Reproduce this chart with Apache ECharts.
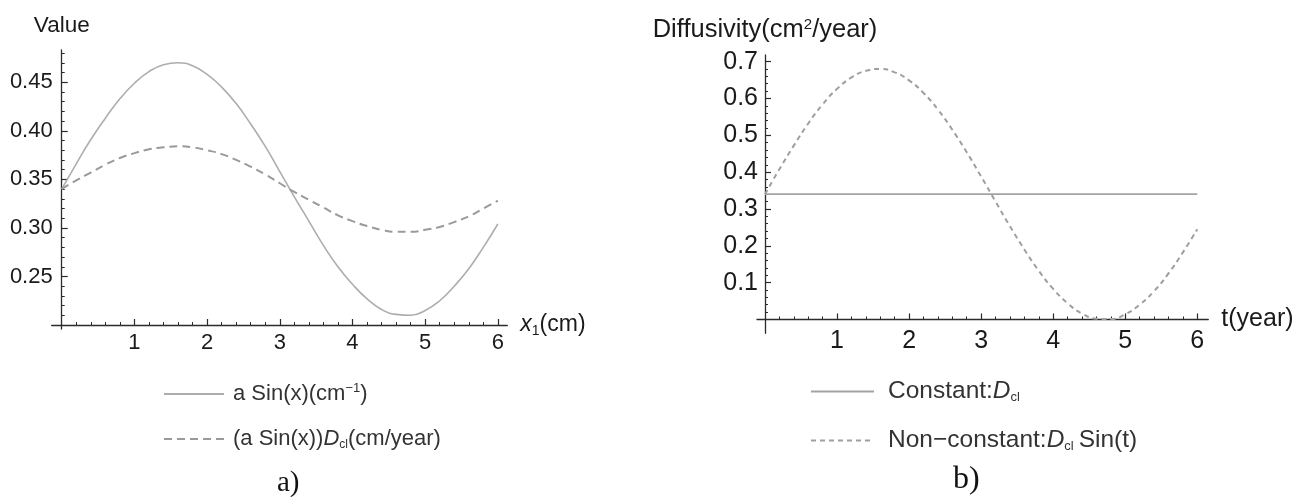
<!DOCTYPE html>
<html>
<head>
<meta charset="utf-8">
<script src="https://cdn.jsdelivr.net/npm/echarts@6/dist/echarts.min.js"></script>
<style>
  html, body { margin: 0; padding: 0; background: #ffffff; }
  #chart { width: 1298px; height: 497px; }
</style>
</head>
<body>
<div id="chart"></div>
<script>
// Sample positions along x (cm) / t (year)
const xs = [0, 0.2, 0.4, 0.6, 0.8, 1, 1.2, 1.4, 1.6, 1.8, 2, 2.2, 2.4, 2.6, 2.8, 3,
            3.2, 3.4, 3.6, 3.8, 4, 4.2, 4.4, 4.6, 4.8, 5, 5.2, 5.4, 5.6, 5.8, 6];

// Panel a): a Sin(x) (cm^-1)
const aSin = [0.340, 0.366, 0.391, 0.413, 0.433, 0.449, 0.461, 0.468, 0.470, 0.467,
              0.458, 0.445, 0.428, 0.407, 0.384, 0.358, 0.332, 0.307, 0.282, 0.260,
              0.242, 0.227, 0.216, 0.211, 0.210, 0.215, 0.225, 0.240, 0.258, 0.280, 0.304];

// Panel a): (a Sin(x)) D_cl (cm/year)
const aSinD = [0.340, 0.349, 0.357, 0.365, 0.372, 0.377, 0.381, 0.383, 0.384, 0.383,
               0.380, 0.376, 0.370, 0.363, 0.355, 0.346, 0.337, 0.329, 0.321, 0.313,
               0.307, 0.302, 0.298, 0.296, 0.296, 0.298, 0.301, 0.306, 0.312, 0.320, 0.328];

// Panel b): constant diffusivity D_cl
const constT = [0, 6];
const constD = [0.34, 0.34];

// Panel b): non-constant diffusivity D_cl Sin(t)
const nonConstD = [0.340, 0.408, 0.472, 0.532, 0.584, 0.626, 0.657, 0.675, 0.680, 0.671,
                   0.649, 0.615, 0.570, 0.515, 0.454, 0.388, 0.320, 0.253, 0.190, 0.132,
                   0.083, 0.044, 0.016, 0.002, 0.001, 0.014, 0.040, 0.077, 0.125, 0.182, 0.245];

// Tick labels
const xTicks = [1, 2, 3, 4, 5, 6];
const leftYTicks = [0.25, 0.30, 0.35, 0.40, 0.45];
const rightYTicks = [0.1, 0.2, 0.3, 0.4, 0.5, 0.6, 0.7];

const FONT = '"Liberation Sans", Arial, sans-serif';
const SERIF = '"Liberation Serif", "Times New Roman", serif';
const AXIS_COLOR = '#2b2b2b';
const TEXT_COLOR = '#1a1a1a';

function zip(a, b) { return a.map((v, i) => [v, b[i]]); }
function steps(from, to, step) {
  const out = [];
  const n = Math.round((to - from) / step);
  for (let i = 0; i <= n; i++) out.push(Math.round((from + i * step) * 10000) / 10000);
  return out;
}

const xMinor = steps(0.2, 6.0, 0.2);
const leftYMinor = steps(0.21, 0.48, 0.01);
const rightYMinor = steps(0.02, 0.70, 0.02);

// Axis ranges (axes overshoot the origin slightly on both panels)
const LX = [-0.138, 6.13], LY = [0.1959, 0.4832];
const RX = [-0.111, 6.153], RY = [-0.0376, 0.718];

function nameRich(fs) {
  return {
    n:   { fontFamily: FONT, fontSize: fs, color: TEXT_COLOR, lineHeight: 26 },
    it:  { fontFamily: FONT, fontSize: fs, color: TEXT_COLOR, fontStyle: 'italic', lineHeight: 26 },
    sub: { fontFamily: FONT, fontSize: Math.round(fs * 0.6), color: TEXT_COLOR, verticalAlign: 'bottom', lineHeight: 22 },
    sup: { fontFamily: FONT, fontSize: Math.round(fs * 0.6), color: TEXT_COLOR, verticalAlign: 'top', lineHeight: 22 }
  };
}

function legendRich(fs, gap) {
  return {
    gap: { width: gap },
    n:   { fontFamily: FONT, fontSize: fs, color: '#333', lineHeight: 24 },
    it:  { fontFamily: FONT, fontSize: fs, color: '#333', fontStyle: 'italic', lineHeight: 24 },
    sub: { fontFamily: FONT, fontSize: Math.round(fs * 0.55), color: '#333', verticalAlign: 'bottom', lineHeight: 22 },
    sup: { fontFamily: FONT, fontSize: Math.round(fs * 0.6), color: '#333', verticalAlign: 'top', lineHeight: 22 }
  };
}

const NAME_A1 = 'a Sin(x)(cm-1)';
const NAME_A2 = '(a Sin(x))Dcl(cm/year)';
const NAME_B1 = 'Constant:Dcl';
const NAME_B2 = 'Non-constant:Dcl Sin(t)';
const legendText = {};
legendText[NAME_A1] = '{gap| }{n|a Sin(x)(cm}{sup|\u22121}{n|)}';
legendText[NAME_A2] = '{gap| }{n|(a Sin(x))}{it|D}{sub|cl}{n|(cm/year)}';
legendText[NAME_B1] = '{gap| }{n|Constant:}{it|D}{sub|cl}';
legendText[NAME_B2] = '{gap| }{n|Non\u2212constant:}{it|D}{sub|cl}{n|\u2009Sin(t)}';

function mainX(grid, range, opts) {
  return Object.assign({
    type: 'value', gridIndex: grid, min: range[0], max: range[1],
    splitLine: { show: false },
    axisTick: { inside: true, length: 6, customValues: xTicks, lineStyle: { color: AXIS_COLOR, width: 1.2 } },
    nameLocation: 'end', nameGap: 13
  }, opts);
}
function minorX(grid, range, ticks, opts) {
  return Object.assign({
    type: 'value', gridIndex: grid, min: range[0], max: range[1],
    splitLine: { show: false },
    axisTick: { inside: true, length: 3, customValues: ticks, lineStyle: { color: AXIS_COLOR, width: 1 } },
    axisLabel: { show: false }
  }, opts);
}

const option = {
  animation: false,
  backgroundColor: '#ffffff',
  grid: [
    { left: 51.7, top: 50, width: 455.6, height: 279 },
    { left: 51.7, top: 50, width: 455.6, height: 279 },
    { left: 757, top: 55, width: 451.3, height: 278.3 },
    { left: 757, top: 55, width: 451.3, height: 278.3 }
  ],
  title: [
    { text: 'a)', left: 277, top: 469, padding: 0,
      textStyle: { fontFamily: SERIF, fontSize: 29, fontWeight: 'normal', color: '#111' } },
    { text: 'b)', left: 953, top: 464, padding: 0,
      textStyle: { fontFamily: SERIF, fontSize: 32, fontWeight: 'normal', color: '#111' } }
  ],
  legend: [
    { orient: 'vertical', left: 158, top: 377, itemWidth: 60, itemHeight: 14, itemGap: 23,
      data: [NAME_A1, NAME_A2], formatter: n => legendText[n],
      itemStyle: { opacity: 0 },
      textStyle: { fontFamily: FONT, fontSize: 22, color: '#333', rich: legendRich(22, 4) } },
    { orient: 'vertical', left: 805, top: 374, itemWidth: 63, itemHeight: 14, itemGap: 24,
      data: [NAME_B1, NAME_B2], formatter: n => legendText[n],
      itemStyle: { opacity: 0 },
      textStyle: { fontFamily: FONT, fontSize: 24.5, color: '#333', rich: legendRich(24.5, 9) } }
  ],
  xAxis: [
    mainX(0, LX, {
      offset: -4,
      axisLine: { onZero: false, lineStyle: { color: AXIS_COLOR, width: 1.3 } },
      axisLabel: { customValues: xTicks, fontFamily: FONT, fontSize: 22, color: TEXT_COLOR, margin: 7,
                   formatter: v => String(v) },
      name: '{it|x}{sub|1}{n|(cm)}',
      nameTextStyle: { rich: nameRich(23), verticalAlign: 'middle' }
    }),
    minorX(1, LX, xMinor, { offset: -4, axisLine: { onZero: false, lineStyle: { opacity: 0 } } }),
    mainX(2, RX, {
      axisLine: { onZero: true, lineStyle: { color: AXIS_COLOR, width: 1.3 } },
      axisLabel: { customValues: xTicks, fontFamily: FONT, fontSize: 25, color: TEXT_COLOR, margin: -5,
                   formatter: v => String(v) },
      name: '{n|t(year)}',
      nameTextStyle: { rich: nameRich(25), verticalAlign: 'middle' }
    }),
    minorX(3, RX, xMinor, { axisLine: { onZero: true, lineStyle: { opacity: 0 } } })
  ],
  yAxis: [
    {
      type: 'value', gridIndex: 0, min: LY[0], max: LY[1],
      splitLine: { show: false },
      axisLine: { onZero: true, lineStyle: { color: AXIS_COLOR, width: 1.3 } },
      axisTick: { inside: true, length: 6, customValues: leftYTicks, lineStyle: { color: AXIS_COLOR, width: 1.2 } },
      axisLabel: { customValues: leftYTicks, fontFamily: FONT, fontSize: 22, color: TEXT_COLOR, margin: -1,
                   formatter: v => v.toFixed(2) },
      name: '{n|Value}', nameLocation: 'end', nameGap: 11,
      nameTextStyle: { rich: nameRich(22.5) }
    },
    {
      type: 'value', gridIndex: 1, min: LY[0], max: LY[1],
      splitLine: { show: false },
      axisLine: { onZero: true, lineStyle: { opacity: 0 } },
      axisTick: { inside: true, length: 3, customValues: leftYMinor, lineStyle: { color: AXIS_COLOR, width: 1 } },
      axisLabel: { show: false }
    },
    {
      type: 'value', gridIndex: 2, min: RY[0], max: RY[1],
      splitLine: { show: false },
      axisLine: { onZero: true, lineStyle: { color: AXIS_COLOR, width: 1.3 } },
      axisTick: { inside: true, length: 6, customValues: rightYTicks, lineStyle: { color: AXIS_COLOR, width: 1.2 } },
      axisLabel: { customValues: rightYTicks, fontFamily: FONT, fontSize: 25, color: TEXT_COLOR, margin: -1,
                   formatter: v => v.toFixed(1) },
      name: '{n|Diffusivity(cm}{sup|2}{n|/year)}', nameLocation: 'end', nameGap: 12,
      nameTextStyle: { rich: nameRich(25.5) }
    },
    {
      type: 'value', gridIndex: 3, min: RY[0], max: RY[1],
      splitLine: { show: false },
      axisLine: { onZero: true, lineStyle: { opacity: 0 } },
      axisTick: { inside: true, length: 3, customValues: rightYMinor, lineStyle: { color: AXIS_COLOR, width: 1 } },
      axisLabel: { show: false }
    }
  ],
  series: [
    { name: NAME_A1, type: 'line', xAxisIndex: 0, yAxisIndex: 0, smooth: true, symbol: 'none',
      data: zip(xs, aSin), lineStyle: { color: '#adadad', width: 1.6 }, itemStyle: { color: '#adadad' } },
    { name: NAME_A2, type: 'line', xAxisIndex: 0, yAxisIndex: 0, smooth: true, symbol: 'none',
      data: zip(xs, aSinD), lineStyle: { color: '#9a9a9a', width: 2, type: [8, 5] }, itemStyle: { color: '#9a9a9a' } },
    { name: NAME_B1, type: 'line', xAxisIndex: 2, yAxisIndex: 2, symbol: 'none',
      data: zip(constT, constD), lineStyle: { color: '#a3a3a3', width: 1.8 }, itemStyle: { color: '#a3a3a3' } },
    { name: NAME_B2, type: 'line', xAxisIndex: 2, yAxisIndex: 2, smooth: true, symbol: 'none',
      data: zip(xs, nonConstD), lineStyle: { color: '#9f9f9f', width: 2, type: [5, 4] }, itemStyle: { color: '#9f9f9f' } }
  ]
};

const chart = echarts.init(document.getElementById('chart'), null, { renderer: 'canvas' });
chart.setOption(option);
</script>
</body>
</html>
